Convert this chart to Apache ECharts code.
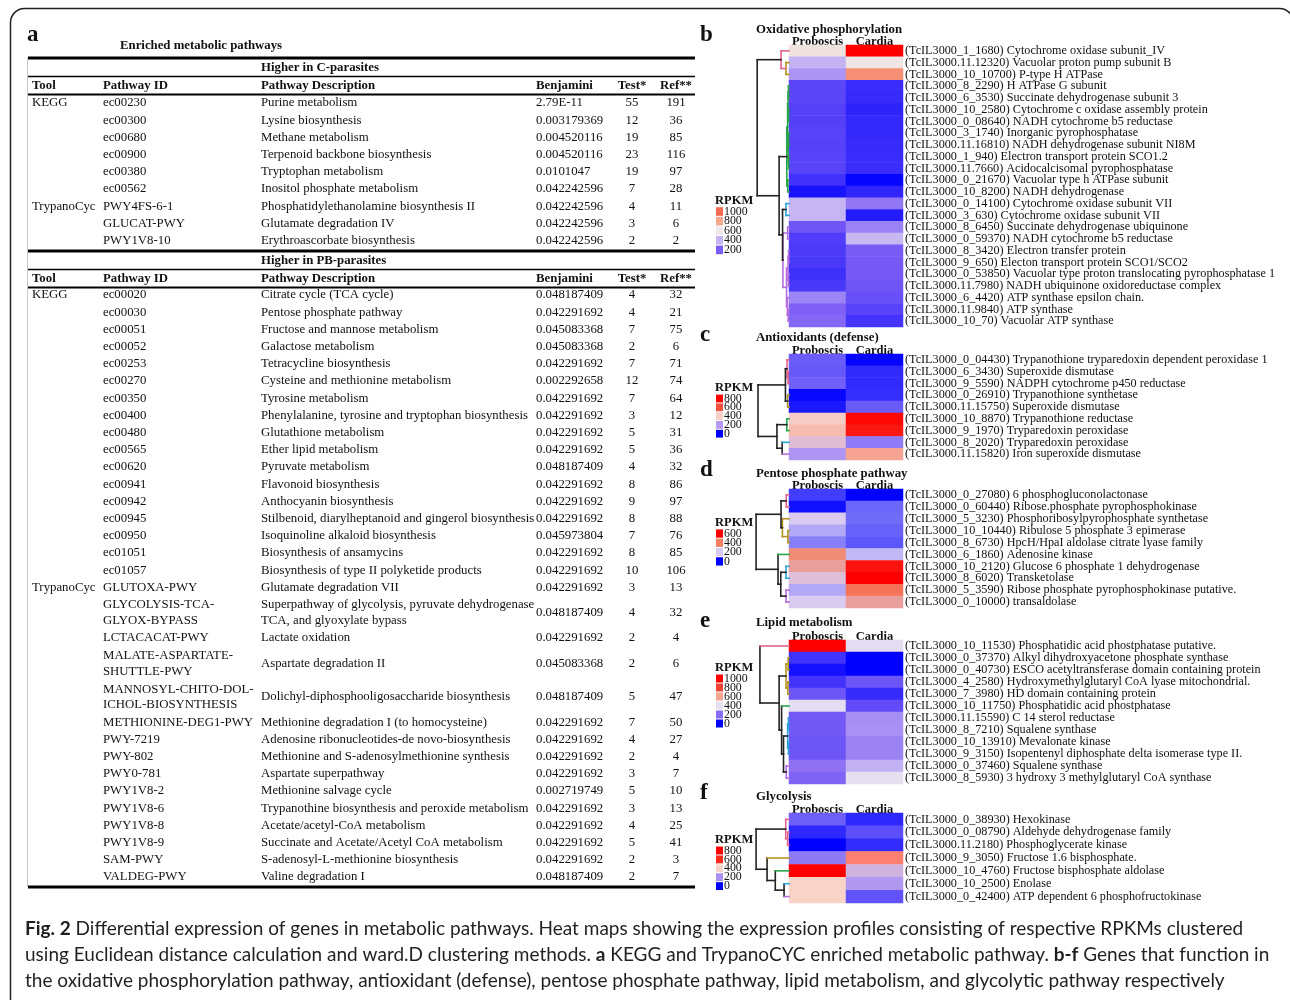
<!DOCTYPE html>
<html>
<head>
<meta charset="utf-8">
<script src="https://cdn.jsdelivr.net/npm/echarts/dist/echarts.min.js"></script>
<style>
  html, body { margin: 0; padding: 0; background: #ffffff; }
  #chart { width: 1290px; height: 1000px; }
</style>
</head>
<body>
<div id="chart"></div>
<script>
// ---------------- Panel a: enriched pathway table ----------------
const tableTitle = 'Enriched metabolic pathways';
const headerCols = ['Tool', 'Pathway ID', 'Pathway Description', 'Benjamini', 'Test*', 'Ref**'];

const cSection = 'Higher in C-parasites';
const cTool = ['KEGG', '', '', '', '', '', 'TrypanoCyc', '', ''];
const cId = ['ec00230', 'ec00300', 'ec00680', 'ec00900', 'ec00380', 'ec00562', 'PWY4FS-6-1', 'GLUCAT-PWY', 'PWY1V8-10'];
const cDesc = ['Purine metabolism', 'Lysine biosynthesis', 'Methane metabolism', 'Terpenoid backbone biosynthesis',
  'Tryptophan metabolism', 'Inositol phosphate metabolism', 'Phosphatidylethanolamine biosynthesis II',
  'Glutamate degradation IV', 'Erythroascorbate biosynthesis'];
const cBenjamini = ['2.79E-11', '0.003179369', '0.004520116', '0.004520116', '0.0101047', '0.042242596',
  '0.042242596', '0.042242596', '0.042242596'];
const cTest = [55, 12, 19, 23, 19, 7, 4, 3, 2];
const cRef = [191, 36, 85, 116, 97, 28, 11, 6, 2];

const pbSection = 'Higher in PB-parasites';
const pbTool = ['KEGG', '', '', '', '', '', '', '', '', '', '', '', '', '', '', '', '',
  'TrypanoCyc', '', '', '', '', '', '', '', '', '', '', '', '', ''];
const pbId = ['ec00020', 'ec00030', 'ec00051', 'ec00052', 'ec00253', 'ec00270', 'ec00350', 'ec00400', 'ec00480',
  'ec00565', 'ec00620', 'ec00941', 'ec00942', 'ec00945', 'ec00950', 'ec01051', 'ec01057',
  'GLUTOXA-PWY', 'GLYCOLYSIS-TCA-\nGLYOX-BYPASS', 'LCTACACAT-PWY', 'MALATE-ASPARTATE-\nSHUTTLE-PWY',
  'MANNOSYL-CHITO-DOL-\nICHOL-BIOSYNTHESIS', 'METHIONINE-DEG1-PWY', 'PWY-7219', 'PWY-802', 'PWY0-781',
  'PWY1V8-2', 'PWY1V8-6', 'PWY1V8-8', 'PWY1V8-9', 'SAM-PWY', 'VALDEG-PWY'];
const pbDesc = ['Citrate cycle (TCA cycle)', 'Pentose phosphate pathway', 'Fructose and mannose metabolism',
  'Galactose metabolism', 'Tetracycline biosynthesis', 'Cysteine and methionine metabolism', 'Tyrosine metabolism',
  'Phenylalanine, tyrosine and tryptophan biosynthesis', 'Glutathione metabolism', 'Ether lipid metabolism',
  'Pyruvate metabolism', 'Flavonoid biosynthesis', 'Anthocyanin biosynthesis',
  'Stilbenoid, diarylheptanoid and gingerol biosynthesis', 'Isoquinoline alkaloid biosynthesis',
  'Biosynthesis of ansamycins', 'Biosynthesis of type II polyketide products', 'Glutamate degradation VII',
  'Superpathway of glycolysis, pyruvate dehydrogenase\nTCA, and glyoxylate bypass', 'Lactate oxidation',
  'Aspartate degradation II', 'Dolichyl-diphosphooligosaccharide biosynthesis',
  'Methionine degradation I (to homocysteine)', 'Adenosine ribonucleotides-de novo-biosynthesis',
  'Methionine and S-adenosylmethionine synthesis', 'Aspartate superpathway', 'Methionine salvage cycle',
  'Trypanothine biosynthesis and peroxide metabolism', 'Acetate/acetyl-CoA metabolism',
  'Succinate and Acetate/Acetyl CoA metabolism', 'S-adenosyl-L-methionine biosynthesis', 'Valine degradation I'];
const pbBenjamini = ['0.048187409', '0.042291692', '0.045083368', '0.045083368', '0.042291692', '0.002292658',
  '0.042291692', '0.042291692', '0.042291692', '0.042291692', '0.048187409', '0.042291692', '0.042291692',
  '0.042291692', '0.045973804', '0.042291692', '0.042291692', '0.042291692', '0.048187409', '0.042291692',
  '0.045083368', '0.048187409', '0.042291692', '0.042291692', '0.042291692', '0.042291692', '0.002719749',
  '0.042291692', '0.042291692', '0.042291692', '0.042291692', '0.048187409'];
const pbTest = [4, 4, 7, 2, 7, 12, 7, 3, 5, 5, 4, 8, 9, 8, 7, 8, 10, 3, 4, 2, 2, 5, 7, 4, 2, 3, 5, 3, 4, 5, 2, 2];
const pbRef = [32, 21, 75, 6, 71, 74, 64, 12, 31, 36, 32, 86, 97, 88, 76, 85, 106, 13, 32, 4, 6, 47, 50, 27, 4, 7,
  10, 13, 25, 41, 3, 7];

// ---------------- Panels b-f: RPKM heat maps ----------------
const heatColumns = ['Proboscis', 'Cardia'];

// b: oxidative phosphorylation
const oxTitle = 'Oxidative phosphorylation';
const oxGenes = [
  '(TcIL3000_1_1680) Cytochrome oxidase subunit_IV',
  '(TcIL3000.11.12320) Vacuolar proton pump subunit B',
  '(TcIL3000_10_10700) P-type H ATPase',
  '(TcIL3000_8_2290) H ATPase G subunit',
  '(TcIL3000_6_3530) Succinate dehydrogenase subunit 3',
  '(TcIL3000_10_2580) Cytochrome c oxidase assembly protein',
  '(TcIL3000_0_08640) NADH cytochrome b5 reductase',
  '(TcIL3000_3_1740) Inorganic pyrophosphatase',
  '(TcIL3000.11.16810) NADH dehydrogenase subunit NI8M',
  '(TcIL3000_1_940) Electron transport protein SCO1.2',
  '(TcIL3000.11.7660) Acidocalcisomal pyrophosphatase',
  '(TcIL3000_0_21670) Vacuolar type h ATPase subunit',
  '(TcIL3000_10_8200) NADH dehydrogenase',
  '(TcIL3000_0_14100) Cytochrome oxidase subunit VII',
  '(TcIL3000_3_630) Cytochrome oxidase subunit VII',
  '(TcIL3000_8_6450) Succinate dehydrogenase ubiquinone',
  '(TcIL3000_0_59370) NADH cytochrome b5 reductase',
  '(TcIL3000_8_3420) Electron transfer protein',
  '(TcIL3000_9_650) Electon transport protein SCO1/SCO2',
  '(TcIL3000_0_53850) Vacuolar type proton translocating pyrophosphatase 1',
  '(TcIL3000.11.7980) NADH ubiquinone oxidoreductase complex',
  '(TcIL3000_6_4420) ATP synthase epsilon chain.',
  '(TcIL3000.11.9840) ATP synthase',
  '(TcIL3000_10_70) Vacuolar ATP synthase'];
const oxProboscis = [620, 400, 330, 150, 150, 140, 135, 145, 140, 145, 145, 105, 40, 410, 410, 180, 130, 125, 120, 100, 120, 290, 210, 225];
const oxCardia = [1200, 610, 880, 95, 90, 75, 85, 85, 90, 95, 95, 10, 80, 260, 60, 285, 420, 195, 190, 190, 180, 170, 145, 110];
const oxScaleBreaks = [0, 200, 400, 600, 800, 1000, 1200];
const oxLegendTicks = [1000, 800, 600, 400, 200];
// merge list: [childA, childB, height]; negative = row number, positive = earlier merge
const oxMerges = [[-2, -3, 1.1], [-1, 1, 2.9], [-4, -5, 0.2], [-6, -7, 0.15], [-8, -9, 0.15], [-10, -11, 0.15],
  [3, 4, 0.35], [5, 6, 0.3], [7, 8, 0.5], [-12, -13, 0.45], [9, 10, 0.8], [-14, -15, 1.1], [-18, -19, 0.15],
  [-20, -21, 0.2], [13, 14, 0.35], [-16, -17, 0.5], [-23, -24, 0.3], [-22, 17, 0.6], [15, 18, 0.9],
  [16, 19, 2.2], [12, 20, 2.35], [11, 21, 3.6], [2, 22, 11.6]];
const oxClusters = [1, 2, 2, 3, 3, 3, 3, 3, 3, 3, 3, 3, 3, 4, 4, 5, 5, 5, 5, 5, 5, 5, 5, 5];
const oxMergeClusters = [2, 1, 3, 3, 3, 3, 3, 3, 3, 3, 3, 4, 5, 5, 5, 5, 5, 5, 5, 5, 0, 0, 0];

// c: antioxidants
const axTitle = 'Antioxidants (defense)';
const axGenes = [
  '(TcIL3000_0_04430) Trypanothione tryparedoxin dependent peroxidase 1',
  '(TcIL3000_6_3430) Superoxide dismutase',
  '(TcIL3000_9_5590) NADPH cytochrome p450 reductase',
  '(TcIL3000_0_26910) Trypanothione synthetase',
  '(TcIL3000.11.15750) Superoxide dismutase',
  '(TcIL3000_10_8870) Trypanothione reductase',
  '(TcIL3000_9_1970) Tryparedoxin peroxidase',
  '(TcIL3000_8_2020) Tryparedoxin peroxidase',
  '(TcIL3000.11.15820) Iron superoxide dismutase'];
const axProboscis = [120, 115, 125, 10, 30, 390, 430, 330, 195];
const axCardia = [5, 55, 55, 60, 120, 780, 740, 160, 470];
const axScaleBreaks = [0, 200, 400, 600, 800];
const axLegendTicks = [800, 600, 400, 200, 0];
const axMerges = [[-2, -3, 0.3], [-1, 1, 0.7], [-4, -5, 0.5], [2, 3, 1.3], [-6, -7, 0.8], [-8, -9, 2.5],
  [5, 6, 4.4], [4, 7, 11.3]];
const axClusters = [1, 1, 1, 2, 2, 3, 3, 4, 5];
const axMergeClusters = [1, 1, 2, 0, 3, 0, 0, 0];

// d: pentose phosphate pathway
const ppTitle = 'Pentose phosphate pathway';
const ppGenes = [
  '(TcIL3000_0_27080) 6 phosphogluconolactonase',
  '(TcIL3000_0_60440) Ribose.phosphate pyrophosphokinase',
  '(TcIL3000_5_3230) Phosphoribosylpyrophosphate synthetase',
  '(TcIL3000_10_10440) Ribulose 5 phosphate 3 epimerase',
  '(TcIL3000_8_6730) HpcH/HpaI aldolase citrate lyase family',
  '(TcIL3000_6_1860) Adenosine kinase',
  '(TcIL3000_10_2120) Glucose 6 phosphate 1 dehydrogenase',
  '(TcIL3000_8_6020) Transketolase',
  '(TcIL3000_5_3590) Ribose phosphate pyrophosphokinase putative.',
  '(TcIL3000_0_10000) transaldolase'];
const ppProboscis = [60, 15, 205, 165, 125, 370, 320, 235, 165, 205];
const ppCardia = [0, 100, 105, 95, 85, 180, 570, 600, 420, 320];
const ppScaleBreaks = [0, 200, 400, 600];
const ppLegendTicks = [600, 400, 200, 0];
const ppMerges = [[-1, -2, 1.0], [-4, -5, 0.4], [-3, 2, 2.4], [1, 3, 2.9], [-7, -8, 1.1], [-9, -10, 1.1],
  [5, 6, 3.0], [-6, 7, 4.0], [4, 8, 12.0]];
const ppClusters = [1, 1, 2, 2, 2, 3, 4, 4, 5, 5];
const ppMergeClusters = [1, 2, 2, 0, 4, 5, 0, 0, 0];

// e: lipid metabolism
const lpTitle = 'Lipid metabolism';
const lpGenes = [
  '(TcIL3000_10_11530) Phosphatidic acid phostphatase putative.',
  '(TcIL3000_0_37370) Alkyl dihydroxyacetone phosphate synthase',
  '(TcIL3000_0_40730) ESCO acetyltransferase domain containing protein',
  '(TcIL3000_4_2580) Hydroxymethylglutaryl CoA lyase mitochondrial.',
  '(TcIL3000_7_3980) HD domain containing protein',
  '(TcIL3000_10_11750) Phosphatidic acid phostphatase',
  '(TcIL3000.11.15590) C 14 sterol reductase',
  '(TcIL3000_8_7210) Squalene synthase',
  '(TcIL3000_10_13910) Mevalonate kinase',
  '(TcIL3000_9_3150) Isopentenyl diphosphate delta isomerase type II.',
  '(TcIL3000_0_37460) Squalene synthase',
  '(TcIL3000_8_5930) 3 hydroxy 3 methylglutaryl CoA synthase'];
const lpProboscis = [1000, 95, 30, 95, 160, 395, 165, 165, 160, 160, 210, 185];
const lpCardia = [395, 0, 0, 160, 80, 140, 260, 265, 240, 240, 320, 400];
const lpScaleBreaks = [0, 200, 400, 600, 800, 1000];
const lpLegendTicks = [1000, 800, 600, 400, 200, 0];
const lpMerges = [[-2, -3, 0.3], [-4, -5, 0.4], [1, 2, 1.1], [-7, -8, 0.2], [-9, -10, 0.2], [4, 5, 0.5],
  [-11, -12, 1.0], [6, 7, 2.0], [-6, 8, 2.7], [3, 9, 3.6], [-1, 10, 10.6]];
const lpClusters = [1, 2, 2, 2, 2, 3, 4, 4, 4, 4, 5, 5];
const lpMergeClusters = [2, 2, 2, 4, 4, 4, 5, 0, 0, 0, 0];

// f: glycolysis
const glTitle = 'Glycolysis';
const glGenes = [
  '(TcIL3000_0_38930) Hexokinase',
  '(TcIL3000_0_08790) Aldehyde dehydrogenase family',
  '(TcIL3000.11.2180) Phosphoglycerate kinase',
  '(TcIL3000_9_3050) Fructose 1.6 bisphosphate.',
  '(TcIL3000_10_4760) Fructose bisphosphate aldolase',
  '(TcIL3000_10_2500) Enolase',
  '(TcIL3000_0_42400) ATP dependent 6 phosphofructokinase'];
const glProboscis = [130, 55, 0, 170, 800, 400, 400];
const glCardia = [55, 110, 60, 500, 300, 220, 115];
const glScaleBreaks = [0, 200, 400, 600, 800];
const glLegendTicks = [800, 600, 400, 200, 0];
const glMerges = [[-2, -3, 0.5], [-1, 1, 1.2], [-6, -7, 1.8], [-5, 3, 5.0], [-4, 4, 8.0], [2, 5, 12.0]];
const glClusters = [1, 1, 1, 2, 3, 4, 5];
const glMergeClusters = [1, 1, 0, 0, 0, 0];

const captionLines = [
  '{b|Fig. 2} Differential expression of genes in metabolic pathways. Heat maps showing the expression profiles consisting of respective RPKMs clustered',
  'using Euclidean distance calculation and ward.D clustering methods. {b|a} KEGG and TrypanoCYC enriched metabolic pathway. {b|b-f} Genes that function in',
  'the oxidative phosphorylation pathway, antioxidant (defense), pentose phosphate pathway, lipid metabolism, and glycolytic pathway respectively'
];

// ---------------- styling ----------------
const SERIF = "'Liberation Serif','Times New Roman',serif";
const SANS = "Lato, 'Noto Sans', sans-serif";
const CLUSTER_COLORS = ['#222222', '#e0648c', '#b4941c', '#28a448', '#2ca4d4', '#b46ee0'];
const RAMP = {
  b: ['#0000ff', '#7b5df5', '#c3b3f3', '#efe8ea', '#f6a88e', '#f46a50', '#ff0000'],
  c: ['#0000ff', '#b39af5', '#f8cfc4', '#f4503c', '#ff0000'],
  d: ['#0000ff', '#d8ccf4', '#f48060', '#ff0000'],
  e: ['#0000ff', '#8a6cf4', '#e6dff0', '#f4a490', '#f04434', '#ff0000'],
  f: ['#0000ff', '#a890f4', '#f8d4c8', '#ff2a1a', '#ff0000']
};
const TABLE_FONT = 12.8;

const panels = [
  { key: 'b', title: oxTitle, genes: oxGenes, pro: oxProboscis, car: oxCardia, breaks: oxScaleBreaks,
    ticks: oxLegendTicks, merges: oxMerges, leafCl: oxClusters, mergeCl: oxMergeClusters,
    top: 45, height: 282, letterY: 35, titleY: 30, legendY: 201, legendStep: 9.6 },
  { key: 'c', title: axTitle, genes: axGenes, pro: axProboscis, car: axCardia, breaks: axScaleBreaks,
    ticks: axLegendTicks, merges: axMerges, leafCl: axClusters, mergeCl: axMergeClusters,
    top: 354, height: 106, letterY: 335, titleY: 338, legendY: 388, legendStep: 8.8 },
  { key: 'd', title: ppTitle, genes: ppGenes, pro: ppProboscis, car: ppCardia, breaks: ppScaleBreaks,
    ticks: ppLegendTicks, merges: ppMerges, leafCl: ppClusters, mergeCl: ppMergeClusters,
    top: 489, height: 119, letterY: 470, titleY: 474, legendY: 523, legendStep: 9.3 },
  { key: 'e', title: lpTitle, genes: lpGenes, pro: lpProboscis, car: lpCardia, breaks: lpScaleBreaks,
    ticks: lpLegendTicks, merges: lpMerges, leafCl: lpClusters, mergeCl: lpMergeClusters,
    top: 640, height: 144, letterY: 621, titleY: 623, legendY: 668, legendStep: 9.0 },
  { key: 'f', title: glTitle, genes: glGenes, pro: glProboscis, car: glCardia, breaks: glScaleBreaks,
    ticks: glLegendTicks, merges: glMerges, leafCl: glClusters, mergeCl: glMergeClusters,
    top: 813, height: 90, letterY: 793, titleY: 797, legendY: 840, legendStep: 8.9 }
];

const HEAT_LEFT = 789, HEAT_W = 114, DENDRO_LEFT = 755, DENDRO_W = 34, DENDRO_MAX = 12.4;

// ---------------- helpers ----------------
function hexToRgb(h) {
  return [parseInt(h.slice(1, 3), 16), parseInt(h.slice(3, 5), 16), parseInt(h.slice(5, 7), 16)];
}
function rampColor(breaks, colors, v) {
  if (v <= breaks[0]) return colors[0];
  for (let i = 1; i < breaks.length; i++) {
    if (v <= breaks[i]) {
      const t = (v - breaks[i - 1]) / (breaks[i] - breaks[i - 1]);
      const a = hexToRgb(colors[i - 1]), b = hexToRgb(colors[i]);
      return 'rgb(' + a.map((x, k) => Math.round(x + (b[k] - x) * t)).join(',') + ')';
    }
  }
  return colors[colors.length - 1];
}
function dendroSegments(merges, leafCl, mergeCl) {
  const pos = [];
  const segs = [];
  const at = k => (k < 0 ? { y: -k, h: 0, leaf: true, c: CLUSTER_COLORS[leafCl[-k - 1]] } : pos[k - 1]);
  merges.forEach((m, i) => {
    const a = at(m[0]), b = at(m[1]), h = m[2];
    const col = CLUSTER_COLORS[mergeCl[i]];
    segs.push({ value: [h, a.y, h, b.y], itemStyle: { color: col } });
    segs.push({ value: [h, a.y, a.h, a.y], itemStyle: { color: a.leaf ? a.c : col } });
    segs.push({ value: [h, b.y, b.h, b.y], itemStyle: { color: b.leaf ? b.c : col } });
    pos.push({ y: (a.y + b.y) / 2, h: h });
  });
  return segs;
}
function txt(x, y, s, o) {
  o = o || {};
  return {
    type: 'text', x: x, y: y, silent: true,
    style: {
      text: s, fontFamily: o.family || SERIF, fontSize: o.size || TABLE_FONT, fontWeight: o.bold ? 'bold' : 'normal',
      fill: o.fill || '#111', align: o.align || 'left', verticalAlign: 'middle',
      lineHeight: o.lineHeight || 15.5, rich: o.rich
    }
  };
}
function hline(x1, x2, y, w, c) {
  return { type: 'line', silent: true, shape: { x1: x1, y1: y, x2: x2, y2: y },
    style: { stroke: c || '#000', lineWidth: w } };
}

// ---------------- table graphics ----------------
const graphics = [];
graphics.push({ type: 'rect', silent: true, shape: { x: 10.5, y: 8.5, width: 1283, height: 1010, r: 14 },
  style: { fill: 'none', stroke: '#222', lineWidth: 1.5 } });

const TX = [32, 103, 261, 536, 632, 676];
const TL = 28, TR = 695;
graphics.push(txt(27, 35, 'a', { size: 23, bold: true }));
graphics.push(txt(120, 46, tableTitle, { size: 12.8, bold: true }));
graphics.push({ type: 'line', silent: true, shape: { x1: 27.5, y1: 58, x2: 27.5, y2: 887 },
  style: { stroke: '#c8c8c8', lineWidth: 1 } });

function tableSection(y0, section, tool, id, desc, benj, test, ref, startRowY) {
  graphics.push(hline(TL, TR, y0, 3));
  graphics.push(txt(TX[2], y0 + 10, section, { bold: true }));
  graphics.push(hline(TL, TR, y0 + 18.5, 1.3));
  headerCols.forEach((h, i) => {
    graphics.push(txt(TX[i], y0 + 28, h, { bold: true, align: i >= 4 ? 'center' : 'left' }));
  });
  graphics.push(hline(TL, TR, y0 + 36.5, 2));
  let y = startRowY;
  for (let r = 0; r < id.length; r++) {
    const dbl = id[r].indexOf('\n') >= 0 || desc[r].indexOf('\n') >= 0;
    const h = dbl ? 33.5 : 17.2;
    const cy = y + h / 2;
    graphics.push(txt(TX[0], cy, tool[r]));
    graphics.push(txt(TX[1], cy, id[r]));
    graphics.push(txt(TX[2], cy, desc[r]));
    graphics.push(txt(TX[3], cy, benj[r]));
    graphics.push(txt(TX[4], cy, String(test[r]), { align: 'center' }));
    graphics.push(txt(TX[5], cy, String(ref[r]), { align: 'center' }));
    y += h;
  }
  return y;
}
tableSection(58, cSection, cTool, cId, cDesc, cBenjamini, cTest, cRef, 94.4);
tableSection(251, pbSection, pbTool, pbId, pbDesc, pbBenjamini, pbTest, pbRef, 286.4);
graphics.push(hline(TL, TR, 887, 3));

// ---------------- heat map panels ----------------
const grid = [], xAxis = [], yAxis = [], series = [], visualMap = [];
panels.forEach((p, i) => {
  const n = p.genes.length;
  // heat map
  grid.push({ left: HEAT_LEFT, top: p.top, width: HEAT_W, height: p.height });
  xAxis.push({ type: 'category', gridIndex: 2 * i, data: heatColumns, position: 'top',
    axisLine: { show: false }, axisTick: { show: false }, splitLine: { show: false },
    axisLabel: { margin: -3, interval: 0, hideOverlap: false, fontFamily: SERIF, fontSize: 12.5,
      fontWeight: 'bold', color: '#111' } });
  yAxis.push({ type: 'category', gridIndex: 2 * i, data: p.genes, inverse: true, position: 'right',
    axisLine: { show: false }, axisTick: { show: false }, splitLine: { show: false },
    axisLabel: { margin: 2, interval: 0, fontFamily: SERIF, fontSize: 12.2, color: '#111' } });
  const cells = [];
  for (let r = 0; r < n; r++) {
    cells.push([0, r, p.pro[r]]);
    cells.push([1, r, p.car[r]]);
  }
  series.push({ type: 'heatmap', name: p.title, xAxisIndex: 2 * i, yAxisIndex: 2 * i, data: cells,
    itemStyle: { borderWidth: 0 }, emphasis: { disabled: true }, progressive: 0 });
  visualMap.push({ type: 'continuous', show: false, seriesIndex: series.length - 1,
    min: p.breaks[0], max: p.breaks[p.breaks.length - 1], inRange: { color: RAMP[p.key] } });

  // dendrogram
  grid.push({ left: DENDRO_LEFT, top: p.top, width: DENDRO_W, height: p.height });
  xAxis.push({ type: 'value', gridIndex: 2 * i + 1, min: 0, max: DENDRO_MAX, inverse: true, show: false });
  yAxis.push({ type: 'value', gridIndex: 2 * i + 1, min: 0.5, max: n + 0.5, inverse: true, show: false });
  series.push({ type: 'custom', xAxisIndex: 2 * i + 1, yAxisIndex: 2 * i + 1, silent: true,
    data: dendroSegments(p.merges, p.leafCl, p.mergeCl),
    encode: { x: [0, 2], y: [1, 3] },
    renderItem: function (params, api) {
      const a = api.coord([api.value(0), api.value(1)]);
      const b = api.coord([api.value(2), api.value(3)]);
      return { type: 'line', shape: { x1: a[0], y1: a[1], x2: b[0], y2: b[1] },
        style: { stroke: api.visual('color'), lineWidth: 1.6, lineCap: 'square' } };
    } });

  // panel letter, title, RPKM key
  graphics.push(txt(700, p.letterY, p.key, { size: 23, bold: true }));
  graphics.push(txt(756, p.titleY, p.title, { size: 12.8, bold: true }));
  graphics.push(txt(715, p.legendY, 'RPKM', { size: 12.5, bold: true }));
  p.ticks.forEach((t, k) => {
    const cy = p.legendY + 10.5 + k * p.legendStep;
    graphics.push({ type: 'rect', silent: true, shape: { x: 716, y: cy - p.legendStep / 2 + 0.5, width: 7, height: p.legendStep - 1 },
      style: { fill: rampColor(p.breaks, RAMP[p.key], t) } });
    graphics.push(txt(724, cy, String(t), { size: 11.8 }));
  });
});

// ---------------- caption ----------------
captionLines.forEach((line, i) => {
  graphics.push(txt(25, 929 + i * 26, line, { family: SANS, size: 19, fill: '#231f20',
    rich: { b: { fontFamily: SANS, fontSize: 19, fontWeight: 'bold', fill: '#231f20' } } }));
});

const chart = echarts.init(document.getElementById('chart'), null, { renderer: 'canvas' });
chart.setOption({
  animation: false,
  backgroundColor: '#ffffff',
  grid: grid,
  xAxis: xAxis,
  yAxis: yAxis,
  visualMap: visualMap,
  series: series,
  graphic: { elements: graphics }
});
</script>
</body>
</html>
